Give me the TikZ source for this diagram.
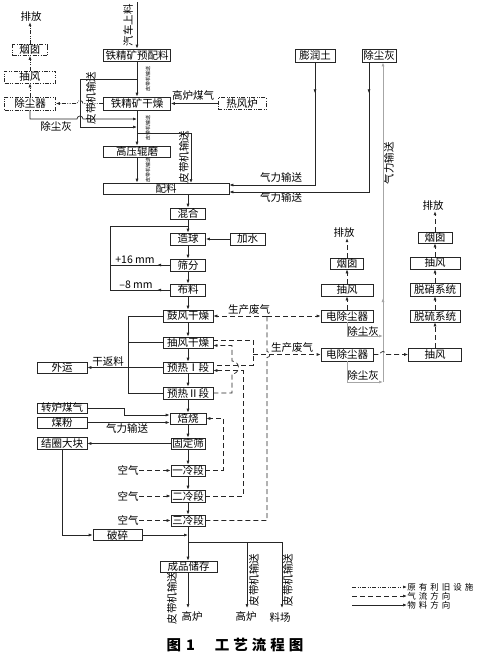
\documentclass[tikz,border=0pt]{standalone}
\usepackage{fontspec}
\setmainfont{Noto Sans CJK SC}
\usetikzlibrary{arrows.meta,decorations.markings,calc}
\newcommand\myfs{\fontsize{10.5}{12}\selectfont}
\newcommand\mytiny{\fontsize{5}{5}\selectfont}
\newcommand\mylegfs{\fontsize{8.5}{9}\selectfont}
\newcommand\lsp{\hspace{3pt}}
\begin{document}
\begin{tikzpicture}[x=1pt,y=-1pt,
  line width=0.7pt, draw=black!85,
  >={Latex[length=4pt,width=3pt]},
  box/.style={draw, fill=white, inner sep=0pt, font=\myfs, minimum height=12pt},
  old/.style={dash pattern=on 4pt off 1.5pt on 0.8pt off 1.5pt on 0.8pt off 1.5pt},
  gas/.style={dash pattern=on 5pt off 3pt},
  gl/.style={draw=gray!70, line width=1pt},
  lab/.style={font=\myfs, inner sep=0pt},
  tinylab/.style={font=\mytiny, inner sep=0pt},
  midarr/.style={postaction={decorate,decoration={markings,mark=at position #1 with {\arrow{Latex[length=4pt,width=3pt]}}}}}
]
\useasboundingbox (0,0) rectangle (479,659);

% ---------- nodes: top-left ----------
\node[lab] (pf1) at (31,17) {排放};
\node[box,old,minimum width=35pt,minimum height=11pt] (yc1) at (30,50) {烟囱};
\node[box,old,minimum width=51pt] (cf1) at (30,77) {抽风};
\node[box,old,minimum width=51pt,minimum height=13pt] (cq1) at (30,103.5) {除尘器};
\node[box,minimum width=67pt] (ypl) at (137,55) {铁精矿预配料};
\node[box,minimum width=67pt,minimum height=13pt] (gz) at (137,103.5) {铁精矿干燥};
\node[box,old,minimum width=48pt] (rfl) at (242,103.5) {热风炉};
\node[box,minimum width=67pt,minimum height=11pt] (gy) at (137,151.5) {高压辊磨};
\node[box,minimum width=126pt,minimum height=11pt] (pl) at (166,188.5) {配料};
\node[box,minimum width=40pt,minimum height=13pt] (prt) at (315,55.5) {膨润土};
\node[box,minimum width=34pt,minimum height=13pt] (chh) at (379,55.5) {除尘灰};

% ---------- main column ----------
\node[box,minimum width=35pt,minimum height=11pt] (hh) at (188,213.5) {混合};
\node[box,minimum width=35pt] (zq) at (188,239) {造球};
\node[box,minimum width=35pt] (js) at (247.5,239) {加水};
\node[box,minimum width=35pt] (sf) at (188,265) {筛分};
\node[box,minimum width=35pt] (bl) at (188,290) {布料};
\node[box,minimum width=50pt] (gf) at (188,316) {鼓风干燥};
\node[box,minimum width=50pt,minimum height=11pt] (cg) at (188,342.5) {抽风干燥};
\node[box,minimum width=50pt,minimum height=11pt] (y1) at (188,367.5) {预热Ⅰ段};
\node[box,minimum width=50pt] (y2) at (188,393) {预热Ⅱ段};
\node[box,minimum width=50pt,minimum height=11pt] (wy) at (62,367.5) {外运};
\node[box,minimum width=50pt,minimum height=10pt] (zl) at (62,408) {转炉煤气};
\node[box,minimum width=50pt,minimum height=11pt] (mf) at (62,422.5) {煤粉};
\node[box,minimum width=36pt,minimum height=11pt] (bs) at (188,418.5) {焙烧};
\node[box,minimum width=34pt,minimum height=11pt] (gd) at (188,443.5) {固定筛};
\node[box,minimum width=50pt] (jq) at (62,443.5) {结圈大块};
\node[box,minimum width=34pt,minimum height=11pt] (l1) at (188,470.5) {一冷段};
\node[box,minimum width=34pt] (l2) at (188,496) {二冷段};
\node[box,minimum width=34pt,minimum height=11pt] (l3) at (188,520.5) {三冷段};
\node[box,minimum width=49pt,minimum height=11pt] (ps) at (117.5,535) {破碎};
\node[box,minimum width=57pt,minimum height=11pt] (cp) at (188.5,566.5) {成品储存};

% ---------- right ----------
\node[box,minimum width=52pt] (e1) at (347,316) {电除尘器};
\node[box,minimum width=52pt] (c2) at (347,290) {抽风};
\node[box,minimum width=33pt,minimum height=11pt] (yc2) at (347,263.5) {烟囱};
\node[lab] (pf2) at (344,233) {排放};
\node[box,minimum width=52pt,minimum height=13pt] (e2) at (347,354.5) {电除尘器};
\node[box,minimum width=53pt,minimum height=13pt] (c3) at (435,354.5) {抽风};
\node[box,minimum width=50pt] (tl) at (435,316) {脱硫系统};
\node[box,minimum width=50pt,minimum height=13pt] (tx) at (435,289.5) {脱硝系统};
\node[box,minimum width=50pt] (c4) at (435,263) {抽风};
\node[box,minimum width=34pt,minimum height=11pt] (yc3) at (435,237.5) {烟囱};
\node[lab] (pf3) at (433,206) {排放};

% ---------- labels ----------
\node[lab,rotate=90] (qcsl) at (128,25) {汽车上料};
\node[lab,rotate=90] (pd1) at (91,98) {皮带机输送};
\node[lab] (cch1) at (56,126) {除尘灰};
\node[lab] (glmq) at (193,96) {高炉煤气};
\node[tinylab,rotate=90] (t1) at (148,79) {皮带机输送};
\node[tinylab,rotate=90] (t2) at (148,128) {皮带机输送};
\node[tinylab,rotate=90] (t3) at (148,170) {皮带机输送};
\node[lab,rotate=90] (pd2) at (184,157) {皮带机输送};
\node[lab] (ql1) at (281,178) {气力输送};
\node[lab] (ql2) at (281,198) {气力输送};
\node[lab,rotate=90] (ql3) at (389,163) {气力输送};
\node[lab] (p16) at (135,260) {+16 mm};
\node[lab] (m8) at (136,285) {–8 mm};
\node[lab] (sc1) at (249,310) {生产废气};
\node[lab] (sc2) at (292,348) {生产废气};
\node[lab] (cch2) at (363,331) {除尘灰};
\node[lab] (cch3) at (363,375) {除尘灰};
\node[lab] (gfl) at (108,361) {干返料};
\node[lab] (ql4) at (127,429) {气力输送};
\node[lab,anchor=east] (k1) at (139,470.5) {空气};
\node[lab,anchor=east] (k2) at (139,496) {空气};
\node[lab,anchor=east] (k3) at (139,520.5) {空气};
\node[lab,rotate=90] (pd3) at (172,598) {皮带机输送};
\node[lab,rotate=90] (pd4) at (254,580) {皮带机输送};
\node[lab,rotate=90] (pd5) at (288,580) {皮带机输送};
\node[lab] (gl1) at (192,617) {高炉};
\node[lab] (gl2) at (246,617) {高炉};
\node[lab] (lc) at (280,617) {料场};
\node[inner sep=0pt] (cap) at (235,645) {\fontsize{14.5}{15}\selectfont\bfseries 图\hspace{5pt}1\hspace{20pt}工\hspace{4pt}艺\hspace{4pt}流\hspace{4pt}程\hspace{4pt}图};

% ---------- legend ----------
\node[lab,anchor=west,font=\mylegfs] (lt1) at (407,587) {原\lsp 有\lsp 利\lsp 旧\lsp 设\lsp 施};
\node[lab,anchor=west,font=\mylegfs] (lt2) at (407,596) {气\lsp 流\lsp 方\lsp 向};
\node[lab,anchor=west,font=\mylegfs] (lt3) at (407,605) {物\lsp 料\lsp 方\lsp 向};
\coordinate (lg1) at (352,587);
\coordinate (lg2) at (352,596);
\coordinate (lg3) at (352,605);
\draw[old,->] (lg1) -- (lt1.west);
\draw[gas,->] (lg2) -- (lt2.west);
\draw[->] (lg3) -- (lt3.west);

% ---------- connectors: top-left ----------
\coordinate (top) at (137,2);
\draw[->] (top) -- (ypl.north);
\draw[->] (ypl) -- (gz);
\coordinate (b1) at (137,79);
\coordinate (b2) at (137,127);
\draw[->] (b1) -- (80,79) -- (80,127) -- (b2);
\draw[old,->] (gz.west) -- (83,103.5) arc[start angle=0,end angle=-180,radius=3] -- (cq1.east);
\draw[->] (cq1.south) -- (30,119) -- (77,119) arc[start angle=180,end angle=360,radius=3] -- (137,119);
\draw[old,->] (cq1) -- (cf1);
\draw[old,->] (cf1) -- (yc1);
\draw[old,->] (yc1.north) -- (yc1.north |- pf1.south);
\draw[->] (rfl) -- (gz);
\draw[->] (gz) -- (gy);
\coordinate (b3) at (137,133);
\draw[->] (b3) -- (191,133) -- (191,183);
\draw[->] (gy.south) -- (gy.south |- pl.north);
\draw[->,midarr=31pt] (prt.south) -- (315,185) -- (pl.east |- 0,185);
\draw[->,midarr=31pt] (chh.south -| 369,0) -- (369,192) -- (pl.east |- 0,192);
\draw[gl,->] (e1.south) -- (347,336) -- (383,336);
\draw[gl,->] (e2.south) -- (347,382) -- (383,382);
\coordinate (v0) at (383,382);
\draw[gl,->,midarr=84pt] (v0) -- (chh.south -| 383,0);

% ---------- main chain ----------
\draw[->] (pl.south -| hh.north) -- (hh.north);
\draw[->] (hh) -- (zq);
\draw[->] (js) -- (zq);
\draw[->] (zq) -- (sf);
\draw[->] (sf) -- (bl);
\draw[->] (bl) -- (gf);
\draw[->] (gf) -- (cg);
\draw[->] (cg) -- (y1);
\draw[->] (y1) -- (y2);
\draw[->] (y2) -- (bs);
\draw[midarr=13pt] (bl.west) -- (110,290) -- (110,226) -- (188,226);
\draw[midarr=13pt] (sf.west) -- (110,265);
\draw (gf.west) -- (128,316) -- (128,393) -- (y2.west);
\draw (cg.west) -- (128,342.5);
\draw[->] (y1.west) -- (wy.east);
\draw[->] (zl.east) -- (124,408) -- (124,415) -- (bs.west |- 0,415);
\draw[->] (mf.east) -- (bs.west |- mf.east);
\draw[->] (bs) -- (gd);
\draw[->] (gd.west) -- (jq.east);
\draw[->] (gd) -- (l1);
\draw[->] (l1) -- (l2);
\draw[->] (l2) -- (l3);
\draw[gas,->] (k1) -- (l1);
\draw[gas,->] (k2) -- (l2);
\draw[gas,->] (k3) -- (l3);
\draw[->] (jq.south) -- (jq.south |- ps.west) -- (ps.west);
\draw[->] (ps.east) -- (ps.east -| l3.south);
\draw[->] (l3) -- (l3.south |- cp.north);
\coordinate (s1) at (188,542);
\draw[->] (s1) -- (282,542) -- (282,608);
\draw[->] (247,542) -- (247,608);
\draw[->] (cp.south -| 188,0) -- (188,608);

% ---------- gas lines ----------
\coordinate (g0) at (267,316);
\draw[gas,->] (g0) -- (e1.west);
\draw[gas,->] (g0) -- (gf.east);
\draw[gas] (l3.east) -- (267,520.5) -- (267,357.5) arc[start angle=90,end angle=-90,radius=3] -- (g0);
\draw[gas] (cg.east |- 0,340) -- (253,340) -- (253,365) -- (y1.east |- 0,365);
\draw[gas,->] (253,354.5) -- (e2.west);
\draw[gas,->] (y2.east) -- (232,393) -- (232,374) arc[start angle=90,end angle=-90,radius=6.5] -- (232,345.5) -- (cg.east |- 0,345.5);
\draw[gas,->] (l2.east) -- (243,496) -- (243,370.5) -- (y1.east |- 0,370.5);
\draw[gas,->] (l1.east) -- (223,470.5) -- (223,418.5) -- (bs.east);

% ---------- right column gas ----------
\draw[gas,->] (e1) -- (c2);
\draw[gas,->] (c2) -- (yc2);
\draw[gas,->] (yc2.north) -- (yc2.north |- pf2.south);
\draw[gas,->] (e2.east) -- (380,354.5) arc[start angle=180,end angle=360,radius=3] -- (c3.west);
\draw[gas,->] (c3) -- (tl);
\draw[gas,->] (tl) -- (tx);
\draw[gas,->] (tx) -- (c4);
\draw[gas,->] (c4) -- (yc3);
\draw[gas,->] (yc3.north) -- (yc3.north |- pf3.south);
\end{tikzpicture}
\end{document}
